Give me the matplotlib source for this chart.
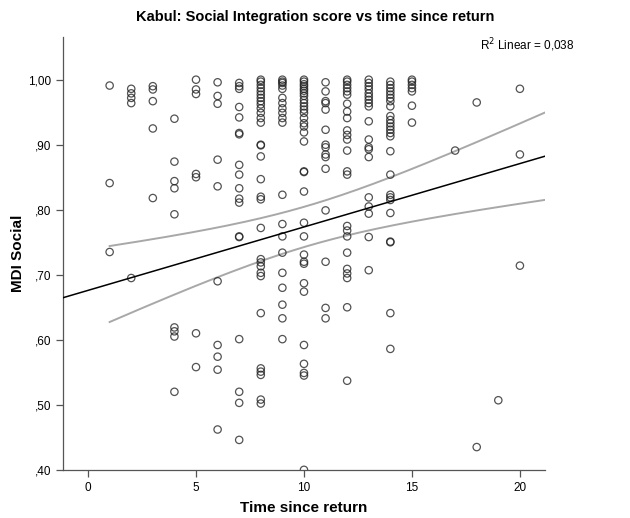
import numpy as np
import matplotlib.pyplot as plt

# ──────────────────────────────────────────────────────────────
# DATA  (MDI Social score per respondent, grouped by years since return)
# ──────────────────────────────────────────────────────────────
T01 = [0.991, 0.841, 0.735]
T02 = [0.986, 0.979, 0.972, 0.964, 0.695]
T03 = [0.990, 0.985, 0.967, 0.925, 0.818]
T04 = [0.940, 0.874, 0.844, 0.833, 0.793, 0.619, 0.613, 0.605, 0.520]
T05 = [1.000, 0.985, 0.978, 0.855, 0.850, 0.610, 0.558]
T06 = [0.996, 0.975, 0.963, 0.877, 0.836, 0.690, 0.592, 0.574, 0.554, 0.462]
T07 = [0.995, 0.990, 0.986, 0.958, 0.942, 0.918, 0.916, 0.869, 0.854, 0.833,
       0.817, 0.811, 0.759, 0.758, 0.601, 0.520, 0.503, 0.446]
T08 = [1.000, 0.997, 0.992, 0.987, 0.982, 0.977, 0.972, 0.967, 0.962, 0.956,
       0.949, 0.941, 0.934, 0.900, 0.899, 0.882, 0.847, 0.820, 0.816, 0.772,
       0.724, 0.719, 0.713, 0.703, 0.698, 0.641, 0.556, 0.551, 0.546, 0.508,
       0.502]
T09 = [1.000, 0.997, 0.995, 0.991, 0.986, 0.972, 0.964, 0.956, 0.949, 0.941,
       0.934, 0.823, 0.778, 0.759, 0.734, 0.703, 0.680, 0.654, 0.633, 0.601]
T10 = [1.000, 0.997, 0.993, 0.990, 0.986, 0.983, 0.979, 0.975, 0.969, 0.964,
       0.959, 0.954, 0.949, 0.941, 0.933, 0.928, 0.919, 0.905, 0.859, 0.858,
       0.828, 0.780, 0.759, 0.731, 0.720, 0.717, 0.687, 0.674, 0.592, 0.563,
       0.549, 0.545, 0.400]
T11 = [0.996, 0.982, 0.967, 0.964, 0.954, 0.923, 0.900, 0.896, 0.885, 0.881,
       0.863, 0.799, 0.720, 0.649, 0.633]
T12 = [1.000, 0.997, 0.992, 0.987, 0.982, 0.977, 0.963, 0.951, 0.941, 0.922,
       0.915, 0.908, 0.891, 0.859, 0.854, 0.775, 0.768, 0.759, 0.734, 0.709,
       0.702, 0.695, 0.650, 0.537]
T13 = [1.000, 0.995, 0.990, 0.985, 0.979, 0.974, 0.969, 0.964, 0.959, 0.936,
       0.908, 0.896, 0.893, 0.881, 0.819, 0.805, 0.794, 0.758, 0.707]
T14 = [0.997, 0.992, 0.987, 0.982, 0.977, 0.972, 0.967, 0.959, 0.944, 0.938,
       0.933, 0.928, 0.923, 0.918, 0.913, 0.890, 0.854, 0.823, 0.819, 0.815,
       0.795, 0.751, 0.750, 0.641, 0.586]
T15 = [1.000, 0.997, 0.992, 0.987, 0.982, 0.960, 0.934]
T17 = [0.891]
T18 = [0.965, 0.435]
T19 = [0.507]
T20 = [0.986, 0.885, 0.714]

YEARS  = [1, 2, 3, 4, 5, 6, 7, 8, 9, 10, 11, 12, 13, 14, 15, 17, 18, 19, 20]
GROUPS = [T01, T02, T03, T04, T05, T06, T07, T08, T09, T10,
          T11, T12, T13, T14, T15, T17, T18, T19, T20]

# Linear fit summary (SPSS output)
R2_LINEAR     = 0.038
FIT_INTERCEPT = 0.676
FIT_SLOPE     = 0.00975
FIT_X_MEAN    = 10.15      # centre of the CI hyperbola
SE_MEAN       = 0.0157     # s.e. of the fitted mean at FIT_X_MEAN
SE_SLOPE      = 0.00275    # s.e. of the slope
T_CRIT        = 1.97       # two-sided 95 % t value

Y_TICKS = [0.40, 0.50, 0.60, 0.70, 0.80, 0.90, 1.00]
Y_TICK_LABELS = [",40", ",50", ",60", ",70", ",80", ",90", "1,00"]
X_TICKS = [0, 5, 10, 15, 20]


def fit_with_ci(xs):
    """Fitted line and 95 % CI of the mean prediction."""
    yhat = FIT_INTERCEPT + FIT_SLOPE * xs
    half = T_CRIT * np.sqrt(SE_MEAN ** 2 + (SE_SLOPE * (xs - FIT_X_MEAN)) ** 2)
    return yhat, yhat - half, yhat + half


def main() -> None:
    plt.rcParams["font.family"] = ["Liberation Sans", "DejaVu Sans"]

    x = np.concatenate([[yr] * len(g) for yr, g in zip(YEARS, GROUPS)]).astype(float)
    y = np.concatenate(GROUPS).astype(float)

    fig = plt.figure(figsize=(6.3, 5.18), dpi=100)
    ax = fig.add_axes([0.100, 0.093, 0.765, 0.836])

    xlim = (-1.16, 21.16)
    ax.set_xlim(*xlim)
    ax.set_ylim(0.40, 1.066)

    ax.scatter(x, y, s=28, facecolors="none", edgecolors="#222222",
               linewidths=0.9, alpha=0.78, zorder=3)

    xs_line = np.array(xlim)
    ax.plot(xs_line, fit_with_ci(xs_line)[0], color="black", lw=1.1, zorder=4)

    # CI curves start at the smallest observed x
    xs_ci = np.linspace(x.min(), xlim[1], 200)
    _, lo, hi = fit_with_ci(xs_ci)
    ax.plot(xs_ci, lo, color="#a8a8a8", lw=1.4, zorder=2)
    ax.plot(xs_ci, hi, color="#a8a8a8", lw=1.4, zorder=2)

    for side in ("top", "right"):
        ax.spines[side].set_visible(False)
    for side in ("left", "bottom"):
        ax.spines[side].set_color("#555555")
        ax.spines[side].set_linewidth(0.9)

    ax.set_yticks(Y_TICKS)
    ax.set_yticklabels(Y_TICK_LABELS)
    ax.set_xticks(X_TICKS)
    ax.tick_params(axis="both", colors="#555555", labelcolor="black",
                   labelsize=8.5, length=5, width=0.9, direction="out")

    ax.set_xlabel("Time since return", fontsize=11, fontweight="bold", labelpad=5)
    ax.set_ylabel("MDI Social", fontsize=11, fontweight="bold", labelpad=2)

    fig.text(0.5, 0.968, "Kabul: Social Integration score vs time since return",
             ha="center", va="center", fontsize=10.5, fontweight="bold")
    fig.text(0.912, 0.913, "R$^2$ Linear = " + f"{R2_LINEAR:.3f}".replace(".", ","),
             ha="right", va="center", fontsize=8.5)

    fig.savefig("out.png", dpi=100)


if __name__ == "__main__":
    main()
